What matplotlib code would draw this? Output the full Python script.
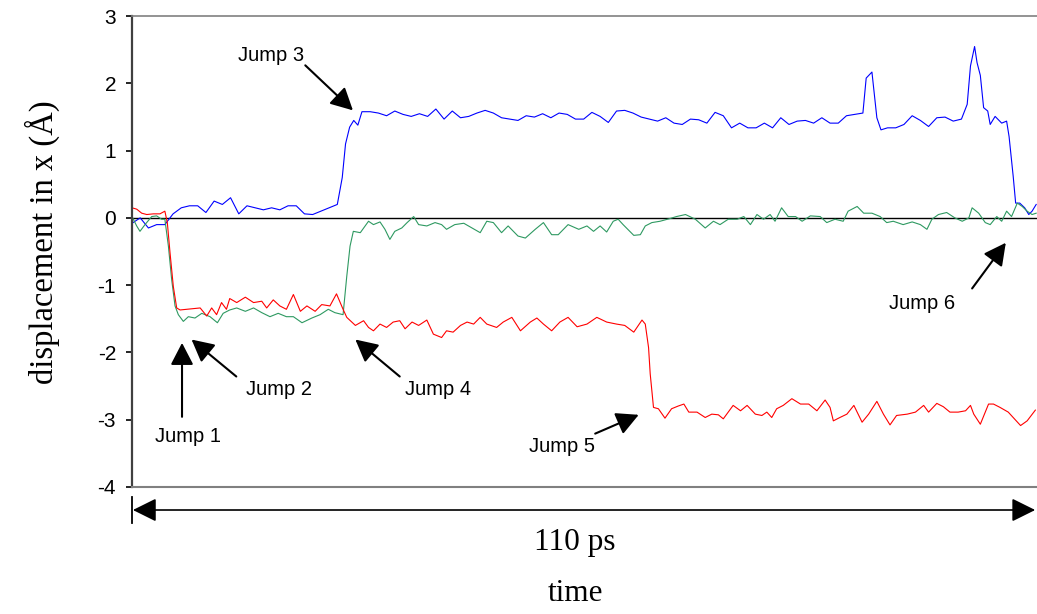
import numpy as np
import matplotlib
matplotlib.use('Agg')
import matplotlib.pyplot as plt

plt.rcParams['axes.unicode_minus'] = False

#***************** Data (time in ps, displacement in Angstrom) ***************#

blue_t = [0, 1, 2, 3, 4, 5, 6, 7, 8, 9, 10, 11, 12, 13, 14, 15, 16, 17, 18, 19,
          20, 21, 22, 23, 24, 25, 25.6, 26, 26.5, 27, 27.5,
          28, 29, 30, 31, 32, 33, 34, 35, 36, 37, 38, 39, 40, 41, 42, 43, 44, 45,
          46, 47, 48, 49, 50, 51, 52, 53, 54, 55, 56, 57, 58, 59, 60, 61, 62, 63,
          64, 65, 66, 67, 68, 69, 70, 71, 72, 73, 74, 75, 76, 77, 78, 79, 80, 81,
          82, 83, 84, 85, 86, 87, 88, 89,
          89.4, 90.1, 90.7, 91.2,
          92, 93, 94, 95, 96, 97, 98, 99, 100, 101,
          101.7, 102.1, 102.6, 102.9, 103.3, 103.7, 104.2, 104.5, 105.1, 105.9,
          106.5, 106.8, 107.3, 107.6, 108.1, 108.7, 109.2, 109.6, 110.1]
blue_x = [-0.08, 0.0, -0.15, -0.1, -0.1, 0.06, 0.15, 0.18, 0.18, 0.08, 0.25, 0.2, 0.3,
          0.06, 0.18, 0.15, 0.12, 0.15, 0.12, 0.18, 0.18, 0.06, 0.05, 0.1, 0.15, 0.2,
          0.6, 1.1, 1.35, 1.45, 1.38,
          1.58, 1.58, 1.56, 1.52, 1.59, 1.54, 1.51, 1.55, 1.51, 1.62, 1.47, 1.59, 1.49,
          1.51, 1.56, 1.6, 1.56, 1.49, 1.47, 1.45, 1.52, 1.5, 1.55, 1.49, 1.56, 1.54,
          1.47, 1.47, 1.57, 1.51, 1.42, 1.59, 1.6, 1.56, 1.5, 1.47, 1.44, 1.49, 1.41,
          1.39, 1.47, 1.46, 1.41, 1.57, 1.52, 1.34, 1.41, 1.34, 1.34, 1.41, 1.34, 1.49,
          1.39, 1.44, 1.45, 1.41, 1.49, 1.41, 1.41, 1.52, 1.54, 1.56,
          2.08, 2.17, 1.49, 1.31,
          1.34, 1.34, 1.39, 1.52, 1.45, 1.36, 1.49, 1.5, 1.44, 1.47,
          1.69, 2.26, 2.55, 2.31, 2.12, 1.64, 1.59, 1.39, 1.51, 1.41,
          1.44, 1.21, 0.62, 0.22, 0.22, 0.15, 0.05, 0.1, 0.2]

green_t = [0, 0.57, 0.97, 1.58, 2.4, 3.0, 3.6, 4.0, 4.43, 4.83,
           5.24, 5.64, 6.25, 6.86, 7.67, 8.5, 9.5, 10.4, 11.1, 11.9,
           12.75, 13.8, 14.8, 15.8, 16.8, 17.8, 18.8, 19.65, 20.7, 21.9,
           22.9, 23.9, 24.7, 25.7, 26.15, 26.55, 26.95, 27.8, 28.8, 29.4,
           30.2, 30.8, 31.4, 32.0, 32.85, 33.5, 34.3, 34.9, 35.9, 36.9,
           37.7, 38.3, 39.3, 40.4, 41.4, 42.4, 43.2, 44.0, 45.0, 45.8,
           47.0, 47.9, 49.1, 50.1, 51.1, 51.9, 53.1, 54.4, 55.4, 56.2,
           57.0, 57.8, 58.6, 59.2, 59.8, 61.1, 61.9, 62.5, 63.3, 64.3,
           65.5, 66.3, 67.4, 68.6, 69.8, 70.8, 71.6, 72.6, 73.7, 74.5,
           75.3, 76.1, 76.9, 77.7, 78.3, 79.1, 79.9, 80.8, 81.6, 82.6,
           83.8, 84.6, 85.6, 86.6, 87.2, 88.3, 89.1, 90.1, 91.1, 91.9,
           92.7, 93.9, 95.0, 96.0, 96.8, 97.4, 98.2, 99.2, 100.2, 101.1,
           101.9, 102.3, 103.1, 103.9, 104.5, 105.3, 105.9, 106.5, 107.1, 107.8,
           108.4, 109.0, 109.6, 110.1]
green_x = [0.02, -0.12, -0.2, -0.1, 0.02, 0.03, -0.02, -0.02, -0.42, -0.92,
           -1.31, -1.44, -1.54, -1.47, -1.49, -1.42, -1.47, -1.56, -1.42, -1.37,
           -1.34, -1.39, -1.34, -1.41, -1.47, -1.42, -1.47, -1.47, -1.56, -1.49,
           -1.44, -1.36, -1.41, -1.44, -0.87, -0.42, -0.2, -0.22, -0.05, -0.1,
           -0.06, -0.17, -0.32, -0.2, -0.15, -0.07, 0.02, -0.1, -0.12, -0.07,
           -0.1, -0.17, -0.1, -0.08, -0.15, -0.22, -0.05, -0.07, -0.22, -0.12,
           -0.27, -0.3, -0.17, -0.07, -0.25, -0.25, -0.1, -0.17, -0.12, -0.2,
           -0.12, -0.21, -0.05, -0.02, -0.1, -0.26, -0.25, -0.12, -0.07, -0.05,
           -0.01, 0.02, 0.05, -0.02, -0.15, -0.05, -0.1, -0.02, -0.02, 0.02,
           -0.1, 0.05, -0.02, 0.05, -0.05, 0.15, 0.02, 0.02, -0.05, 0.03,
           0.02, -0.07, -0.02, -0.05, 0.1, 0.17, 0.07, 0.07, 0.02, -0.07,
           -0.05, -0.1, -0.06, -0.1, -0.17, -0.02, 0.05, 0.08, 0.0, -0.05,
           0.0, 0.15, 0.07, -0.07, -0.1, 0.02, -0.05, 0.1, 0.02, 0.22,
           0.17, 0.1, 0.05, 0.07]

red_t = [0, 0.57, 1.18, 1.8, 2.6, 3.4, 4.0, 4.3, 4.63, 5.03,
         5.44, 5.85, 6.66, 7.47, 8.3, 9.1, 9.7, 10.3, 10.9, 11.5,
         11.9, 12.75, 13.8, 14.8, 15.8, 16.4, 17.2, 18.0, 18.8, 19.65,
         20.5, 21.3, 22.3, 23.1, 24.1, 24.9, 25.7, 26.15, 27.2, 28.2,
         28.8, 29.4, 30.2, 31.0, 31.8, 32.6, 33.25, 34.1, 34.9, 35.9,
         36.7, 37.7, 38.3, 39.1, 40.0, 40.8, 41.6, 42.4, 43.2, 44.4,
         45.2, 46.25, 47.3, 48.5, 49.3, 50.1, 51.1, 52.1, 53.1, 54.2,
         55.4, 56.6, 57.8, 59.0, 60.0, 61.1, 62.1, 62.5, 62.9, 63.1,
         63.5, 64.1, 64.9, 65.7, 66.5, 67.2, 67.8, 68.8, 69.8, 70.6,
         71.4, 72.0, 73.2, 74.1, 74.9, 75.9, 76.7, 77.3, 77.9, 78.5,
         79.3, 80.35, 81.4, 82.4, 83.4, 84.4, 85.0, 85.4, 86.2, 87.05,
         87.9, 88.9, 89.7, 90.7, 91.5, 92.3, 93.1, 94.4, 95.4, 96.4,
         97.0, 98.0, 98.8, 99.6, 100.6, 101.5, 102.1, 102.5, 103.3, 104.3,
         104.9, 105.7, 106.7, 107.3, 108.2, 109.0, 110.0]
red_x = [0.15, 0.13, 0.07, 0.05, 0.06, 0.06, 0.1, -0.07, -0.52, -1.02,
         -1.34, -1.37, -1.36, -1.35, -1.34, -1.46, -1.34, -1.44, -1.26, -1.36,
         -1.2, -1.26, -1.18, -1.26, -1.24, -1.34, -1.22, -1.31, -1.36, -1.14,
         -1.39, -1.31, -1.39, -1.29, -1.31, -1.13, -1.36, -1.48, -1.6, -1.53,
         -1.63, -1.68, -1.58, -1.63, -1.55, -1.53, -1.65, -1.55, -1.6, -1.52,
         -1.73, -1.78, -1.68, -1.7, -1.6, -1.55, -1.58, -1.48, -1.58, -1.63,
         -1.55, -1.48, -1.68, -1.55, -1.49, -1.58, -1.68, -1.55, -1.48, -1.62,
         -1.58, -1.48, -1.55, -1.58, -1.6, -1.7, -1.52, -1.58, -1.93, -2.32,
         -2.82, -2.84, -2.98, -2.84, -2.8, -2.77, -2.89, -2.89, -2.97, -2.92,
         -2.93, -2.99, -2.79, -2.87, -2.79, -2.92, -2.94, -2.89, -2.97, -2.84,
         -2.79, -2.69, -2.77, -2.77, -2.87, -2.71, -2.82, -3.02, -2.97, -2.92,
         -2.79, -3.04, -2.92, -2.73, -2.92, -3.08, -2.94, -2.92, -2.89, -2.79,
         -2.89, -2.76, -2.81, -2.89, -2.89, -2.87, -2.79, -2.92, -3.07, -2.77,
         -2.77, -2.82, -2.89, -2.97, -3.09, -3.02, -2.86]

y_ticks = [-4, -3, -2, -1, 0, 1, 2, 3]

# label, arrow tip (t, x), arrow tail (t, x), text centre (t, x)
jumps = [
    ('Jump 1', (6.09, -1.86), (6.09, -2.96), (6.8, -3.25)),
    ('Jump 2', (7.25, -1.81), (12.7, -2.36), (17.9, -2.56)),
    ('Jump 3', (26.9, 1.6), (21.1, 2.27), (16.9, 2.42)),
    ('Jump 4', (27.2, -1.81), (32.6, -2.36), (37.3, -2.56)),
    ('Jump 5', (61.7, -2.93), (56.4, -3.21), (52.3, -3.40)),
    ('Jump 6', (106.4, -0.37), (102.3, -1.05), (96.2, -1.28)),
]

#***************** Plot ***************#

fig = plt.figure(figsize=(10.37, 6.14), dpi=100)
ax = fig.add_axes([0.1273, 0.2073, 0.8727, 0.7662])

ax.plot(blue_t, blue_x, color='#0000FF', lw=0.8)
ax.plot(green_t, green_x, color='#2E9961', lw=0.8)
ax.plot(red_t, red_x, color='#FF0000', lw=0.8)
ax.axhline(0, color='black', lw=1.0, zorder=1)

ax.set_xlim(0, 110.2)
ax.set_ylim(-4, 3)
ax.set_xticks([])
ax.set_yticks(y_ticks)
ax.set_yticklabels([str(v) for v in y_ticks], fontsize=15, family='Liberation Sans')
ax.tick_params(axis='y', direction='out', length=4.5, width=1.2, pad=7, colors='black')

ax.spines['right'].set_visible(False)
ax.spines['left'].set_color('#404040')
ax.spines['left'].set_linewidth(1.6)
ax.spines['top'].set_color('#808080')
ax.spines['top'].set_linewidth(1.2)
ax.spines['bottom'].set_color('#808080')
ax.spines['bottom'].set_linewidth(1.5)

ax.set_ylabel('displacement in x (Å)', family='Liberation Serif', fontsize=23.5)
ax.yaxis.set_label_coords(-0.08, 0.52)

# Jump annotations
for label, tip, tail, txt in jumps:
    ax.annotate('', xy=tip, xytext=tail,
                arrowprops=dict(arrowstyle='-|>,head_length=1.35,head_width=0.7',
                                mutation_scale=10, color='black', lw=1.5,
                                shrinkA=0, shrinkB=0))
    ax.text(txt[0], txt[1], label, ha='center', va='center',
            fontsize=14.5, family='Liberation Sans')

# time span arrow below the axes
ax.annotate('', xy=(0.001, -0.0495), xytext=(0.998, -0.0495),
            xycoords='axes fraction', textcoords='axes fraction',
            arrowprops=dict(arrowstyle='<|-|>,head_length=1.45,head_width=0.72',
                            mutation_scale=10, color='black', lw=1.2,
                            shrinkA=0, shrinkB=0),
            annotation_clip=False)
ax.plot([0, 0], [-0.022, -0.077], transform=ax.transAxes, color='black',
        lw=1.3, clip_on=False)

ax.text(0.489, -0.135, '110 ps', transform=ax.transAxes, ha='center',
        va='baseline', family='Liberation Serif', fontsize=22.5)
ax.text(0.49, -0.243, 'time', transform=ax.transAxes, ha='center',
        va='baseline', family='Liberation Serif', fontsize=22.5)

plt.savefig('out.png', dpi=100)
